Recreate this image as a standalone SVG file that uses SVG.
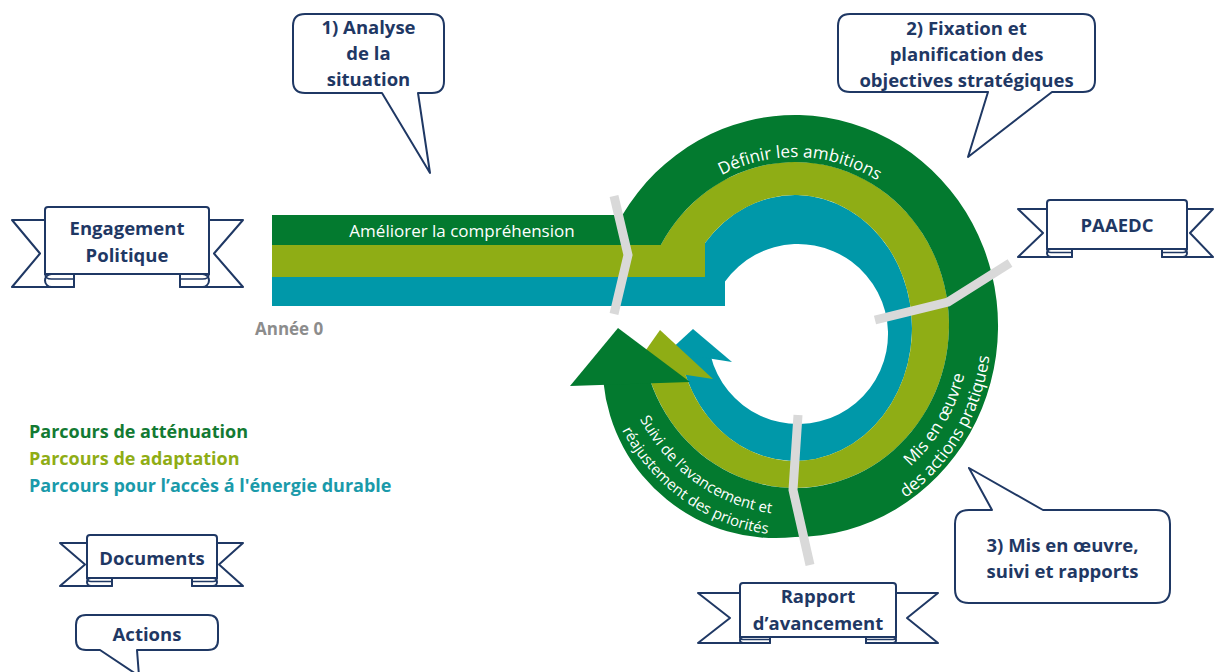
<svg xmlns="http://www.w3.org/2000/svg" width="1214" height="672" viewBox="0 0 1214 672">
<defs>
<style>
.nv{fill:#fff;stroke:#1f3864;stroke-width:2;stroke-linejoin:round}
.nl{fill:none;stroke:#1f3864;stroke-width:1.5}
.t{font-family:"Open Sans","Liberation Sans",sans-serif;font-weight:700;font-size:18.5px;fill:#1f3864;text-anchor:middle}
.bt{font-family:"Open Sans","Liberation Sans",sans-serif;font-size:17px;fill:#fff}
.bs{font-family:"Open Sans","Liberation Sans",sans-serif;font-size:15px;fill:#fff}
.lg{font-family:"Open Sans","Liberation Sans",sans-serif;font-weight:700;font-size:18px}
.dv{fill:none;stroke:#d9d9d9;stroke-width:9;stroke-linejoin:miter}
.g{fill:#037a2f}.o{fill:#8fad15}.c{fill:#0098a9}
</style>
<path id="pTop" d="M633,326 A162,169 0 0 1 957,326"/>
<path id="pR1" d="M819.4,510.2 A175,182 0 0 0 961.4,273.8"/>
<path id="pR2" d="M822.3,531 A196,203 0 0 0 981.4,267.3"/>
<path id="pL1" d="M619,349.3 A177,185 0 0 0 843.8,507.8"/>
<path id="pL2" d="M598.1,351.5 A198,206 0 0 0 849.6,528"/>
</defs>
<rect width="1214" height="672" fill="#fff"/>

<g id="spiral">
<path id="band-teal" class="c" d="M272,277 H705 V243 A117,133 0 1 1 679.6,350 L710.5,355 A90,90 0 1 0 725,281.4 V306 H272 Z"/>
<path id="head-teal" class="c" d="M693,329 L732,362 L668,352 Z"/>
<path id="band-olive" class="o" d="M272,245 H660.8 A154,163 0 1 1 646,366 L684.6,372 A117,133 0 1 0 705,243 V277 H272 Z"/>
<path id="head-olive" class="o" d="M660,330 L713,379 L634,367 Z"/>
<path id="band-green" class="g" d="M272,215 H622.4 A203,211 0 1 1 795,537 A173,173 0 0 1 603.4,382 L650,380 A154,163 0 1 0 660.8,245 H272 Z"/>
<path id="head-green" class="g" d="M618,328 L690,382 L570,386 Z"/>
<text class="bt" x="462" y="237" text-anchor="middle">Améliorer la compréhension</text>
<text class="bt"><textPath href="#pTop" startOffset="51%" text-anchor="middle">Définir les ambitions</textPath></text>
<text class="bt"><textPath href="#pR1" startOffset="50%" text-anchor="middle">Mis en œuvre</textPath></text>
<text class="bt"><textPath href="#pR2" startOffset="50%" text-anchor="middle">des actions pratiques</textPath></text>
<text class="bs"><textPath href="#pL1" startOffset="50%" text-anchor="middle">Suivi de l’avancement et</textPath></text>
<text class="bs"><textPath href="#pL2" startOffset="50%" text-anchor="middle">réajustement des priorités</textPath></text>
<text x="255" y="335" font-family="Open Sans, Liberation Sans, sans-serif" font-weight="700" font-size="17" fill="#8c8c8c">Année 0</text>
</g>

<g id="connectors">
<polyline class="dv" points="614,196 628,255 614,314"/>
<polyline class="dv" points="1010,263 948,302 875,320"/>
<polyline class="dv" points="798,415 793,490 810,565"/>
</g>

<g id="callout-1">
<path class="nv" d="M305,14 H432 Q444,14 444,26 V81 Q444,93 432,93 H418 L430,173 L382,93 H305 Q293,93 293,81 V26 Q293,14 305,14 Z"/>
<text class="t" x="368.5" y="34">1) Analyse</text>
<text class="t" x="368.5" y="60">de la</text>
<text class="t" x="368.5" y="86">situation</text>
</g>

<g id="callout-2">
<path class="nv" d="M850,14 H1083 Q1095,14 1095,26 V80 Q1095,92 1083,92 H1052 L968,157 L988,92 H850 Q838,92 838,80 V26 Q838,14 850,14 Z"/>
<text class="t" x="966.5" y="35">2) Fixation et</text>
<text class="t" x="966.5" y="61">planification des</text>
<text class="t" x="966.5" y="87">objectives stratégiques</text>
</g>

<g id="callout-3">
<path class="nv" d="M969,510 H992 L969,468 L1043,510 H1156 Q1170,510 1170,524 V589 Q1170,603 1156,603 H969 Q955,603 955,589 V524 Q955,510 969,510 Z"/>
<text class="t" x="1062.5" y="552">3) Mis en œuvre,</text>
<text class="t" x="1062.5" y="578">suivi et rapports</text>
</g>

<g id="callout-actions">
<path class="nv" d="M86,615 H208 Q218,615 218,625 V640 Q218,650 208,650 H137 L139,676 L100,650 H86 Q76,650 76,640 V625 Q76,615 86,615 Z"/>
<text class="t" x="147" y="641">Actions</text>
</g>

<g id="ribbon-engagement">
<path class="nv" d="M45,220 H12 L40,253.5 L12,287 H74 V274 H45 Z"/>
<path class="nv" d="M209,220 H243 L214,253.5 L243,287 H180 V274 H209 Z"/>
<path class="nv" d="M45,274 V210 Q45,207 48,207 H206 Q209,207 209,210 V274 Z"/>
<path class="nv" d="M74,274 V287 H51.5 A6.5,6.5 0 0 1 51.5,274 Z"/>
<path class="nv" d="M180,274 V287 H202.5 A6.5,6.5 0 0 0 202.5,274 Z"/>
<path class="nl" d="M45,274 Q45,279 51.5,279 H74 M209,274 Q209,279 202.5,279 H180"/>
<text class="t" x="127" y="235">Engagement</text>
<text class="t" x="127" y="262">Politique</text>
</g>

<g id="ribbon-paaedc">
<path class="nv" d="M1047,209 H1018 L1043,233 L1018,257 H1072 V249 H1047 Z"/>
<path class="nv" d="M1187,209 H1213 L1190,233 L1213,257 H1162 V249 H1187 Z"/>
<path class="nv" d="M1047,249 V203 Q1047,200 1050,200 H1184 Q1187,200 1187,203 V249 Z"/>
<path class="nv" d="M1072,249 V257 H1051 A4,4 0 0 1 1051,249 Z"/>
<path class="nv" d="M1162,249 V257 H1183 A4,4 0 0 0 1183,249 Z"/>
<path class="nl" d="M1047,249 Q1047,252.5 1051,252.5 H1072 M1187,249 Q1187,252.5 1183,252.5 H1162"/>
<text class="t" x="1117" y="232">PAAEDC</text>
</g>

<g id="ribbon-rapport">
<path class="nv" d="M740,593 H698 L730,618 L698,643 H770 V637 H740 Z"/>
<path class="nv" d="M896,593 H938 L907,618 L938,643 H866 V637 H896 Z"/>
<path class="nv" d="M740,637 V586 Q740,583 743,583 H893 Q896,583 896,586 V637 Z"/>
<path class="nv" d="M770,637 V643 H743 A3,3 0 0 1 743,637 Z"/>
<path class="nv" d="M866,637 V643 H893 A3,3 0 0 0 893,637 Z"/>
<path class="nl" d="M740,637 Q740,639.5 743,639.5 H770 M896,637 Q896,639.5 893,639.5 H866"/>
<text class="t" x="818" y="603">Rapport</text>
<text class="t" x="818" y="630">d’avancement</text>
</g>

<g id="ribbon-documents">
<path class="nv" d="M87,543 H60 L85,564.5 L60,586 H112 V578 H87 Z"/>
<path class="nv" d="M217,543 H243 L219,564.5 L243,586 H192 V578 H217 Z"/>
<path class="nv" d="M87,578 V538 Q87,535 90,535 H214 Q217,535 217,538 V578 Z"/>
<path class="nv" d="M112,578 V586 H91 A4,4 0 0 1 91,578 Z"/>
<path class="nv" d="M192,578 V586 H213 A4,4 0 0 0 213,578 Z"/>
<path class="nl" d="M87,578 Q87,581.5 91,581.5 H112 M217,578 Q217,581.5 213,581.5 H192"/>
<text class="t" x="152" y="565">Documents</text>
</g>

<g id="legend">
<text class="lg" x="29" y="438" fill="#137a33">Parcours de atténuation</text>
<text class="lg" x="29" y="465" fill="#8fad15">Parcours de adaptation</text>
<text class="lg" x="29" y="492" fill="#1a9aaa">Parcours pour l’accès á l'énergie durable</text>
</g>
</svg>
